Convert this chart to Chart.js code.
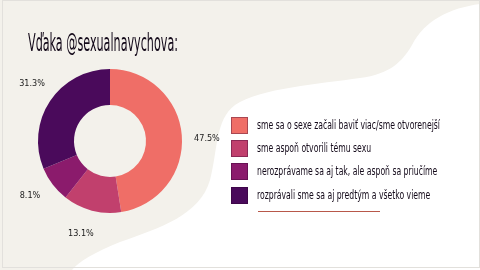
<!DOCTYPE html>
<html>
<head>
<meta charset="utf-8">
<script src="https://cdn.jsdelivr.net/npm/chart.js@4"></script>
<style>
  html, body { margin:0; padding:0; width:480px; height:270px; overflow:hidden; background:#f3f1eb; }
  #wrap { position:relative; width:480px; height:270px; }
  canvas { position:absolute; left:0; top:0; }
  .txt { position:absolute; white-space:nowrap; color:#140a1a; transform-origin:0 0;
         font-family:"Liberation Sans Narrow","DejaVu Sans Condensed",sans-serif; }
  #title { left:28px; top:28px; font-size:25px; }
  .lg { position:absolute; left:231px; width:17px; height:17px; box-sizing:border-box; border:1px solid rgba(40,0,40,0.35); }
  .lt { left:257px; font-size:12.5px; }
  #uline { position:absolute; left:258px; top:211px; width:122px; height:1px; background:#b8584a; }
</style>
</head>
<body>
<div id="wrap">
  <canvas id="c" width="480" height="270"></canvas>
  <div id="title" class="txt">Vďaka @sexualnavychova:</div>
  <div id="legend"></div>
  <div id="uline"></div>
</div>
<script>
const categories = [
  "sme sa o sexe začali baviť viac/sme otvorenejší",
  "sme aspoň otvorili tému sexu",
  "nerozprávame sa aj tak, ale aspoň sa priučíme",
  "rozprávali sme sa aj predtým a všetko vieme"
];
const values = [47.5, 13.1, 8.1, 31.3];
const valueLabels = ["47.5%", "13.1%", "8.1%", "31.3%"];
const colors = ["#ef6e67", "#c1406d", "#8b1b6c", "#4a0a5b"];

function fitWidth(el, target) {
  const w = el.getBoundingClientRect().width;
  el.style.transform = "scaleX(" + (target / w) + ")";
}

const bgPlugin = {
  id: 'bg',
  beforeDraw(chart) {
    const ctx = chart.ctx;
    ctx.save();
    ctx.fillStyle = "#f3f1eb";
    ctx.fillRect(0, 0, 480, 270);
    ctx.fillStyle = "#ffffff";
    ctx.beginPath();
    ctx.moveTo(480, 4);
    ctx.bezierCurveTo(450, 8, 425, 20, 412, 45);
    ctx.bezierCurveTo(402, 62, 390, 74, 360, 78);
    ctx.bezierCurveTo(320, 84, 260, 88, 235, 105);
    ctx.bezierCurveTo(215, 120, 218, 150, 210, 180);
    ctx.bezierCurveTo(200, 215, 160, 228, 120, 242);
    ctx.bezierCurveTo(95, 252, 78, 262, 72, 270);
    ctx.lineTo(480, 270);
    ctx.closePath();
    ctx.fill();
    ctx.strokeStyle = "#e2e0dc";
    ctx.lineWidth = 1;
    ctx.strokeRect(2.5, 0.5, 477, 267);
    ctx.restore();
  }
};

const labelPlugin = {
  id: 'pctLabels',
  afterDatasetsDraw(chart) {
    const ctx = chart.ctx;
    const meta = chart.getDatasetMeta(0);
    ctx.save();
    ctx.fillStyle = "#1a1a1a";
    ctx.font = "9px 'Liberation Sans Narrow','DejaVu Sans Condensed',sans-serif";
    ctx.textAlign = "center";
    ctx.textBaseline = "middle";
    meta.data.forEach((arc, i) => {
      const p = arc.getProps(['x','y','startAngle','endAngle','outerRadius'], true);
      const a = (p.startAngle + p.endAngle) / 2 + 0.05;
      const r = p.outerRadius + 25;
      ctx.fillText(valueLabels[i], p.x + Math.cos(a) * r, p.y + Math.sin(a) * r);
    });
    ctx.restore();
  }
};

new Chart(document.getElementById('c'), {
  type: 'doughnut',
  data: {
    labels: categories,
    datasets: [{ data: values, backgroundColor: colors, borderWidth: 0 }]
  },
  options: {
    responsive: false,
    animation: false,
    cutout: '50%',
    layout: { padding: { left: 38, right: 298, top: 69, bottom: 57 } },
    plugins: { legend: { display: false }, tooltip: { enabled: false } }
  },
  plugins: [bgPlugin, labelPlugin]
});

// HTML legend built from the data arrays
const lg = document.getElementById('legend');
const rowTops = [117, 140, 163, 187];
categories.forEach((name, i) => {
  const sw = document.createElement('div');
  sw.className = 'lg';
  sw.style.top = rowTops[i] + 'px';
  sw.style.background = colors[i];
  lg.appendChild(sw);
  const t = document.createElement('div');
  t.className = 'txt lt';
  t.style.top = rowTops[i] + 'px';
  t.textContent = name;
  lg.appendChild(t);
});
const lts = document.querySelectorAll('.lt');
const w0 = lts[0].getBoundingClientRect().width;
const s = 183 / w0;
lts.forEach(el => { el.style.transform = "scaleX(" + s + ")"; });
fitWidth(document.getElementById('title'), 150);
</script>
</body>
</html>
